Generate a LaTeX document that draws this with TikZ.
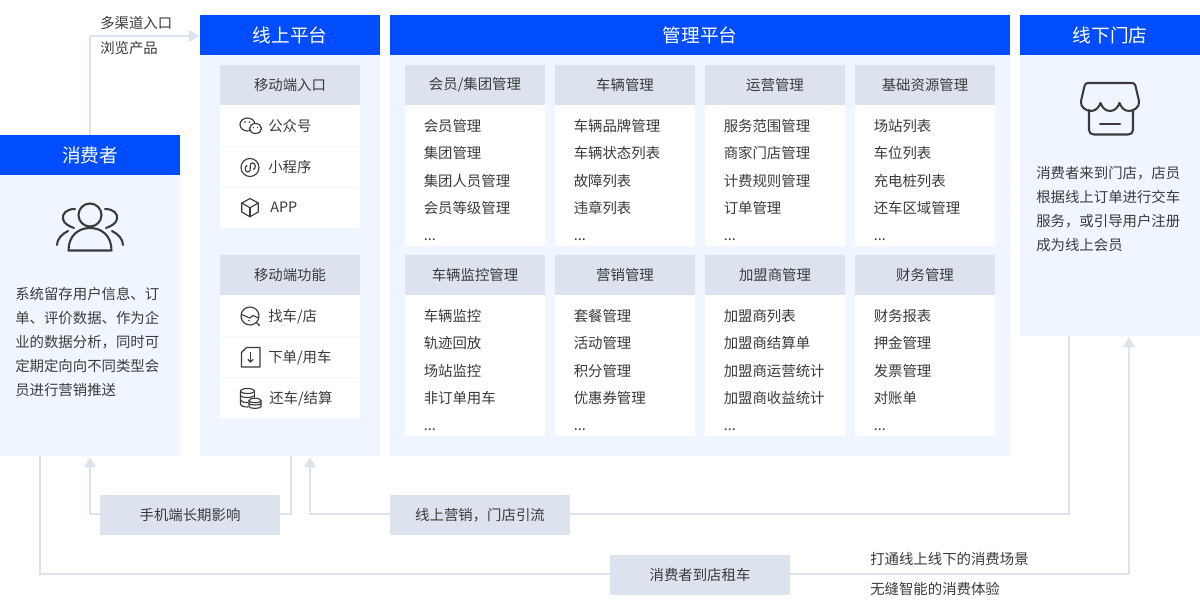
\documentclass[tikz,border=0pt]{standalone}
\usepackage{fontspec}
\setmainfont{Noto Sans CJK SC}
\usetikzlibrary{arrows.meta}
\definecolor{brandblue}{HTML}{004CFF}
\definecolor{panelbg}{HTML}{F0F6FF}
\definecolor{greybox}{HTML}{DCE3EE}
\definecolor{ink}{HTML}{3A3A3A}
\tikzset{
  x=0.75pt,y=-0.75pt,
  sized/.style 2 args={minimum width=#1*0.75pt,minimum height=#2*0.75pt,inner sep=0pt,outer sep=0pt,anchor=north west},
  head/.style={fill=brandblue,text=white,font=\fontsize{14}{16}\selectfont},
  panel/.style={fill=panelbg},
  sub/.style={fill=greybox,text=ink,font=\fontsize{10.8}{13}\selectfont},
  item/.style={fill=white},
  lbl/.style={anchor=base west,inner sep=0pt,text=ink,font=\fontsize{10.8}{13}\selectfont},
  para/.style={anchor=north west,inner sep=0pt,text=ink,align=left,font=\fontsize{10.8}{18}\selectfont},
  link/.style={draw=greybox,line width=1.5pt},
  arrowed/.style={link,-{Triangle[length=7.8pt,width=8.6pt,color=greybox]}},
  ico/.style={draw=ink,line width=0.85pt,line cap=round,line join=round},
  bigico/.style={draw=ink,line width=1.55pt,line cap=round,line join=round},
}
\newcommand{\mgcol}[8]{%
  \node[sized={140}{141},item] (#3body) at (#1,{#2+40}) {};
  \node[sized={140}{40},sub] (#3) at (#1,#2) {#4};
  \node[lbl] (#3a) at ({#1+18.5},{#2+66.4}) {#5};
  \node[lbl] (#3b) at ({#1+18.5},{#2+93.4}) {#6};
  \node[lbl] (#3c) at ({#1+18.5},{#2+121.4}) {#7};
  \node[lbl] (#3d) at ({#1+18.5},{#2+148.4}) {#8};
  \node[lbl] (#3e) at ({#1+18.5},{#2+175}) {...};
}
\begin{document}
\begin{tikzpicture}
\useasboundingbox (0,0) rectangle (1200,610);
\fill[white] (0,0) rectangle (1200,610);

% main panels
\node[sized={180}{281},panel] (consumerBody) at (0,175) {};
\node[sized={180}{40},head] (consumerHead) at (0,135) {消费者};
\node[sized={180}{401},panel] (onlineBody) at (200,55) {};
\node[sized={180}{40},head] (onlineHead) at (200,15) {线上平台};
\node[sized={620}{401},panel] (mgmtBody) at (390,55) {};
\node[sized={620}{40},head] (mgmtHead) at (390,15) {管理平台};
\node[sized={180}{281},panel] (storeBody) at (1020,55) {};
\node[sized={180}{40},head] (storeHead) at (1020,15) {线下门店};

% mobile entry
\node[sized={140}{40},sub] (entry) at (220,65) {移动端入口};
\node[sized={140}{41},item] (entryA) at (220,105) {};
\node[sized={140}{40},item] (entryB) at (220,147) {};
\node[sized={140}{40},item] (entryC) at (220,188) {};
\node[lbl] (entryAt) at (268,131.4) {公众号};
\node[lbl] (entryBt) at (268,172.4) {小程序};
\node[lbl] (entryCt) at (270,212.4) {APP};

% mobile function
\node[sized={140}{40},sub] (func) at (220,255) {移动端功能};
\node[sized={140}{41},item] (funcA) at (220,295) {};
\node[sized={140}{40},item] (funcB) at (220,337) {};
\node[sized={140}{40},item] (funcC) at (220,378) {};
\node[lbl] (funcAt) at (268,321.4) {找车/店};
\node[lbl] (funcBt) at (268,362.4) {下单/用车};
\node[lbl] (funcCt) at (269,403.4) {还车/结算};

% management grid
\mgcol{405}{65}{ma}{会员/集团管理}{会员管理}{集团管理}{集团人员管理}{会员等级管理}
\mgcol{555}{65}{mb}{车辆管理}{车辆品牌管理}{车辆状态列表}{故障列表}{违章列表}
\mgcol{705}{65}{mc}{运营管理}{服务范围管理}{商家门店管理}{计费规则管理}{订单管理}
\mgcol{855}{65}{md}{基础资源管理}{场站列表}{车位列表}{充电桩列表}{还车区域管理}
\mgcol{405}{255}{me}{车辆监控管理}{车辆监控}{轨迹回放}{场站监控}{非订单用车}
\mgcol{555}{255}{mf}{营销管理}{套餐管理}{活动管理}{积分管理}{优惠券管理}
\mgcol{705}{255}{mg}{加盟商管理}{加盟商列表}{加盟商结算单}{加盟商运营统计}{加盟商收益统计}
\mgcol{855}{255}{mh}{财务管理}{财务报表}{押金管理}{发票管理}{对账单}

% paragraphs
\node[para] (consumerText) at (15,287) {系统留存用户信息、订\\单、评价数据、作为企\\业的数据分析，同时可\\定期定向向不同类型会\\员进行营销推送};
\node[para] (storeText) at (1036,166) {消费者来到门店，店员\\根据线上订单进行交车\\服务，或引导用户注册\\成为线上会员};

% flow boxes
\node[sized={180}{40},sub] (longterm) at (100,495) {手机端长期影响};
\node[sized={180}{40},sub] (marketing) at (390,495) {线上营销，门店引流};
\node[sized={180}{40},sub] (visit) at (610,555) {消费者到店租车};

% free labels
\node[lbl] (lblA) at (100,28.6) {多渠道入口};
\node[lbl] (lblB) at (100,54) {浏览产品};
\node[lbl] (lblC) at (870,564) {打通线上线下的消费场景};
\node[lbl] (lblD) at (870,594) {无缝智能的消费体验};

% connector end points
\coordinate (topStart) at (90,135);
\coordinate (topEnd) at (199.5,36);
\coordinate (upA) at (90,457);
\coordinate (upB) at (310,457);
\coordinate (upC) at (1129,337);
\coordinate (fromOnline) at (291,456);
\coordinate (fromStore) at (1069,336);
\coordinate (fromConsumer) at (40,456);
\coordinate (lL) at (100,514);
\coordinate (lR) at (280,514);
\coordinate (mL) at (390,514);
\coordinate (mR) at (570,514);
\coordinate (vL) at (610,574);
\coordinate (vR) at (790,574);

% connectors
\draw[arrowed] (topStart) |- (topEnd);
\draw[arrowed] (lL) -| (upA);
\draw[link] (lR) -| (fromOnline);
\draw[arrowed] (mL) -| (upB);
\draw[link] (mR) -| (fromStore);
\draw[link] (fromConsumer) |- (vL);
\draw[arrowed] (vR) -| (upC);

% consumer icon
\begin{scope}[bigico]
  \draw (90,215) circle[radius=11.5];
  \draw (68.5,250.5) .. controls (68.5,236) and (78,228) .. (90,228) .. controls (102,228) and (111.5,236) .. (111.5,250.5) -- cycle;
  \draw (75,209) .. controls (66,209) and (62,214) .. (63,219) .. controls (64,224) and (69,226) .. (74,228);
  \draw (68,231) .. controls (62,234) and (57,239) .. (57,245);
  \draw (105,209) .. controls (114,209) and (118,214) .. (117,219) .. controls (116,224) and (111,226) .. (106,228);
  \draw (112,231) .. controls (118,234) and (123,239) .. (123,245);
\end{scope}

% store icon
\begin{scope}[bigico]
  \draw (1088,83) -- (1132,83) .. controls (1134,83) and (1135,84) .. (1135.5,86) -- (1139,101)
    .. controls (1140,107) and (1134,111) .. (1129,111) .. controls (1124,111) and (1121,107) .. (1119.5,103)
    .. controls (1118,107) and (1115,111) .. (1110,111) .. controls (1105,111) and (1102,107) .. (1100.5,103)
    .. controls (1099,107) and (1096,111) .. (1091,111) .. controls (1086,111) and (1080,107) .. (1081,101)
    -- (1084.5,86) .. controls (1085,84) and (1086,83) .. (1088,83) -- cycle;
  \draw (1089,110) -- (1089,130) .. controls (1089,133) and (1091,134.5) .. (1094,134.5) -- (1128,134.5)
    .. controls (1131,134.5) and (1133,133) .. (1133,130) -- (1133,110);
  \draw (1100,124) -- (1120,124);
\end{scope}

% wechat icon
\begin{scope}[ico]
  \draw (247.5,124.5) ellipse[x radius=7.5,y radius=6.5];
  \draw[fill=white] (255.5,128.5) ellipse[x radius=6,y radius=5];
  \fill[ink] (245,122) circle[radius=0.8] (249.5,122) circle[radius=0.8] (253.5,127.5) circle[radius=0.7] (257.5,127.5) circle[radius=0.7];
\end{scope}

% mini programme icon
\begin{scope}[ico]
  \draw (250,167.5) circle[radius=9];
  \draw (247,165.5) .. controls (244.5,166.5) and (244.5,172) .. (248,172) .. controls (250,172) and (250.3,170) .. (250.3,168) -- (250.3,166) .. controls (250.3,164) and (251,163) .. (252.5,163) .. controls (256,163) and (256,168.5) .. (253.5,169.5);
\end{scope}

% APP icon
\begin{scope}[ico]
  \draw (250,198.5) -- (258.2,203) -- (258.2,212) -- (250,216.8) -- (241.8,212) -- (241.8,203) -- cycle;
  \draw (241.8,203) -- (250,207.8) -- (258.2,203);
  \draw (250,207.8) -- (250,216.8);
\end{scope}

% find icon
\begin{scope}[ico]
  \draw (250,316) circle[radius=9];
  \draw (241.5,314.5) -- (250,318) -- (253,315.5) -- (258.5,318);
  \fill[ink] (249,320.5) circle[radius=0.9];
  \draw (256.5,322.5) -- (259.5,325.5);
\end{scope}

% order icon
\begin{scope}[ico]
  \draw (246.5,347.5) -- (260,347.5) -- (260,367) -- (241.5,367) -- (241.5,352.5) -- cycle;
  \draw (250.5,352.5) -- (250.5,362);
  \draw (248,359.5) -- (250.5,362) -- (253,359.5);
\end{scope}

% return icon
\begin{scope}[ico]
  \draw (247.5,391) ellipse[x radius=7,y radius=2.5];
  \draw (240.5,391) -- (240.5,404) .. controls (240.5,406) and (244,407) .. (248,407);
  \draw (254.5,391) -- (254.5,398);
  \draw (240.5,395.5) .. controls (241,398) and (252,398.5) .. (254.5,395.5);
  \draw (240.5,400) .. controls (241,402) and (244,402.5) .. (248,402.5);
  \draw (255,400.5) ellipse[x radius=6,y radius=2.2];
  \draw (249,400.5) -- (249,406.5) .. controls (249,409) and (261,409) .. (261,406.5) -- (261,400.5);
  \draw (249,403.5) .. controls (249,405.5) and (261,405.5) .. (261,403.5);
\end{scope}
\end{tikzpicture}
\end{document}
